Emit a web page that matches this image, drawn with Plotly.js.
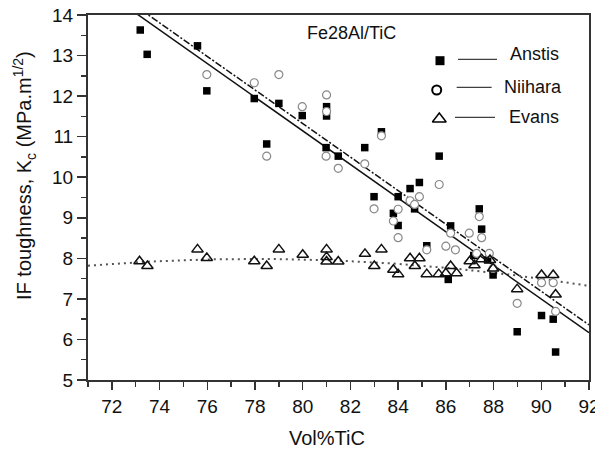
<!DOCTYPE html>
<html>
<head>
<meta charset="utf-8">
<script src="https://cdn.plot.ly/plotly-3.0.1.min.js"></script>
<style>
html,body{margin:0;padding:0;background:#fff;}
#chart{width:595px;height:450px;}
</style>
</head>
<body>
<div id="chart"></div>
<script>
// ---- Data ----
const anstisX = [73.19,73.48,75.59,75.98,77.97,78.49,79.0,79.98,81.0,81.0,80.98,81.49,82.6,82.99,83.3,84.0,83.8,84.0,84.5,84.89,84.69,85.2,85.72,86.2,86.1,87.17,87.4,87.5,87.75,87.98,88.99,90.01,90.5,90.6];
const anstisY = [13.63,13.03,13.24,12.13,11.94,10.82,11.82,11.52,11.74,11.51,10.73,10.52,10.73,9.52,11.12,9.52,9.11,8.81,9.72,9.87,9.22,8.31,10.52,8.8,7.48,8.07,9.22,8.72,7.96,7.59,6.19,6.59,6.5,5.69];

const niiharaX = [75.98,77.97,78.49,79.0,79.98,81.0,81.0,80.98,81.49,82.6,82.99,83.3,84.0,83.8,84.0,84.5,84.89,84.69,85.2,85.72,86.0,86.2,86.4,86.98,87.4,87.5,87.29,87.82,87.98,88.99,90.01,90.5,90.6];
const niiharaY = [12.53,12.33,10.52,12.53,11.74,12.03,11.62,10.52,10.22,10.33,9.22,11.02,9.21,8.92,8.51,9.42,9.52,9.33,8.21,9.82,8.30,8.62,8.21,8.62,9.03,8.51,8.12,8.12,7.75,6.89,7.40,7.40,6.69];

const evansX = [73.16,73.49,75.59,75.98,77.97,78.49,79.0,80.0,81.0,81.0,81.0,81.49,82.61,83.0,83.3,83.8,84.0,84.5,84.89,84.7,85.2,85.7,86.0,86.2,86.45,87.0,87.2,87.5,87.85,87.98,88.99,90.01,90.5,90.6];
const evansY = [7.93,7.81,8.22,8.01,7.93,7.81,8.22,8.09,8.22,8.03,7.92,7.92,8.11,7.81,8.22,7.72,7.61,8.0,8.0,7.81,7.61,7.61,7.63,7.81,7.63,7.93,7.83,7.98,7.96,7.75,7.24,7.59,7.59,7.11];

// Fit coefficients (polynomial, ascending powers) estimated from the drawn fit lines
const anstisFit = [44.32, -0.4147];
const niiharaFit = [44.42, -0.4137];
const evansFit = [-12.70, 0.5304, -0.0034];

const seriesNames = ['Anstis', 'Niihara', 'Evans'];
const chartLabel = 'Fe28Al/TiC';
const xTitle = 'Vol%TiC';
const yTitle = 'IF toughness, K<sub>c</sub> (MPa.m<sup>1/2</sup>)';
const xTicks = [72,74,76,78,80,82,84,86,88,90,92];
const yTicks = [5,6,7,8,9,10,11,12,13,14];

// ---- Build ----
function poly(c, x){ let s=0; for(let i=0;i<c.length;i++) s += c[i]*Math.pow(x,i); return s; }
const fitXs = [];
for(let x=71; x<=92.0001; x+=0.25) fitXs.push(+x.toFixed(2));

const FONT = 'Liberation Sans, Arial, Helvetica, sans-serif';

const traces = [
  {x: fitXs, y: fitXs.map(x=>poly(evansFit,x)), mode:'lines', line:{color:'#555', width:2, dash:'2px,4px'}, showlegend:false, hoverinfo:'skip'},
  {x: fitXs, y: fitXs.map(x=>poly(anstisFit,x)), mode:'lines', line:{color:'#111', width:1.5}, showlegend:false, hoverinfo:'skip'},
  {x: fitXs, y: fitXs.map(x=>poly(niiharaFit,x)), mode:'lines', line:{color:'#111', width:1.5, dash:'7px,2px,2px,2px'}, showlegend:false, hoverinfo:'skip'},
  {x: anstisX, y: anstisY, mode:'markers', name: seriesNames[0], marker:{symbol:'square', size:7.5, color:'#000', line:{width:0}}, showlegend:false},
  {x: niiharaX, y: niiharaY, mode:'markers', name: seriesNames[1], marker:{symbol:'circle', size:8, color:'#fff', line:{width:1.2, color:'#888'}}, showlegend:false},
  {x: evansX, y: evansY, mode:'markers', name: seriesNames[2], marker:{symbol:'triangle-up', size:10, color:'rgba(255,255,255,0)', line:{width:1.5, color:'#111'}}, showlegend:false},
  // legend symbols on an overlay paper-like axis
  {x:[0.7026], y:[0.8748], xaxis:'x2', yaxis:'y2', mode:'markers', marker:{symbol:'square', size:9, color:'#000'}, showlegend:false, hoverinfo:'skip'},
  {x:[0.6960], y:[0.7945], xaxis:'x2', yaxis:'y2', mode:'markers', marker:{symbol:'circle', size:9, color:'#fff', line:{width:2, color:'#000'}}, showlegend:false, hoverinfo:'skip'},
  {x:[0.7012], y:[0.7151], xaxis:'x2', yaxis:'y2', mode:'markers', marker:{symbol:'triangle-up', size:12, color:'#fff', line:{width:1.5, color:'#000'}}, showlegend:false, hoverinfo:'skip'}
];

const legendLines = [
  {x0:0.7385, x1:0.8164, y:0.8786},
  {x0:0.7359, x1:0.8057, y:0.8019},
  {x0:0.7325, x1:0.8124, y:0.7197}
];
const legendText = [
  {x:0.8383, y:0.8920},
  {x:0.8257, y:0.8019},
  {x:0.8357, y:0.7214}
];

const shapes = legendLines.map(l=>({type:'line', xref:'paper', yref:'paper', x0:l.x0, x1:l.x1, y0:l.y, y1:l.y, line:{color:'#111', width:1}}));

const annotations = legendText.map((t,i)=>({xref:'paper', yref:'paper', x:t.x, y:t.y, xanchor:'left', yanchor:'middle', text:seriesNames[i], showarrow:false, font:{family:FONT, size:18, color:'#111'}}));
annotations.push({xref:'paper', yref:'paper', x:0.525, y:0.9507, xanchor:'center', yanchor:'middle', text:chartLabel, showarrow:false, font:{family:FONT, size:18, color:'#111'}});
annotations.push({xref:'paper', yref:'paper', x:0.4764, y:-0.159, xanchor:'center', yanchor:'middle', text:xTitle, showarrow:false, font:{family:FONT, size:20, color:'#111'}});
annotations.push({xref:'paper', yref:'paper', x:-0.1257, y:0.559, xanchor:'center', yanchor:'middle', textangle:-90, text:yTitle, showarrow:false, font:{family:FONT, size:20, color:'#111'}});

const layout = {
  width:595, height:450,
  margin:{l:88, r:6, t:15, b:70},
  paper_bgcolor:'#fff', plot_bgcolor:'#fff',
  showlegend:false,
  font:{family:FONT, color:'#111'},
  xaxis:{range:[71,92], tickvals:xTicks, ticktext:xTicks.map(String), showgrid:false, zeroline:false,
         showline:true, mirror:true, linecolor:'#333', linewidth:2,
         ticks:'outside', ticklen:8, tickwidth:1.5, tickcolor:'#333', ticklabeloverflow:'allow',
         minor:{dtick:1, tick0:71, ticks:'outside', ticklen:5, tickwidth:1.5, tickcolor:'#333', showgrid:false},
         tickfont:{family:FONT, size:19, color:'#111'}},
  yaxis:{range:[5,14], tickvals:yTicks, ticktext:yTicks.map(String), showgrid:false, zeroline:false,
         showline:true, mirror:true, linecolor:'#333', linewidth:2,
         ticks:'outside', ticklen:9, tickwidth:1.5, tickcolor:'#333', ticklabeloverflow:'allow',
         minor:{dtick:0.5, tick0:5, ticks:'outside', ticklen:5, tickwidth:1.5, tickcolor:'#333', showgrid:false},
         tickfont:{family:FONT, size:19, color:'#111'}},
  xaxis2:{overlaying:'x', range:[0,1], visible:false, fixedrange:true},
  yaxis2:{overlaying:'y', range:[0,1], visible:false, fixedrange:true},
  shapes: shapes,
  annotations: annotations
};

Plotly.newPlot('chart', traces, layout, {displayModeBar:false, staticPlot:true});
</script>
</body>
</html>
